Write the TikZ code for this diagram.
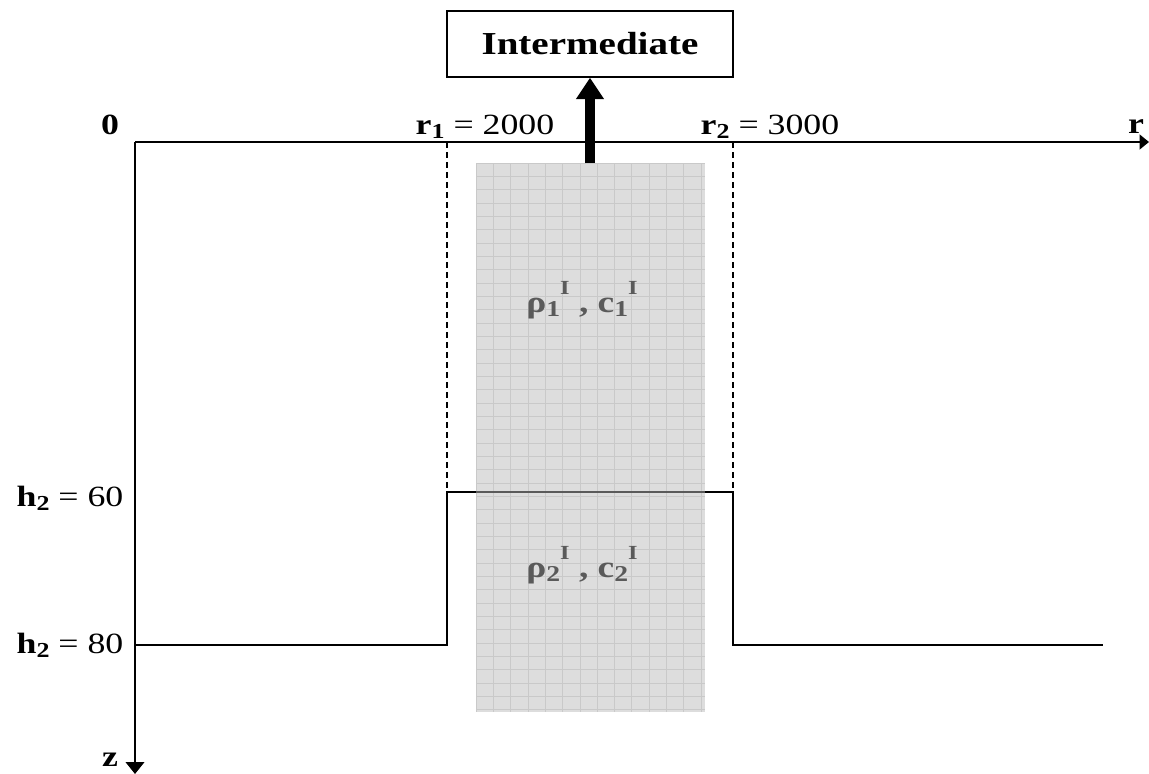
\documentclass[tikz,border=0pt]{standalone}
\usepackage{fontspec}
\setmainfont{Liberation Serif}
\usepackage{graphicx}
\usetikzlibrary{arrows.meta}
\newcommand{\sx}[1]{\scalebox{1.22}[1]{#1}}
\newcommand{\bsub}[1]{\raisebox{-0.3ex}{\fontsize{16}{16}\selectfont\textbf{#1}}}
\newcommand{\gsub}[1]{\raisebox{-0.3ex}{\fontsize{17}{17}\selectfont\textbf{#1}}}
\newcommand{\gsup}[1]{\raisebox{1.25ex}{\fontsize{15}{15}\selectfont\textbf{#1}}}
\definecolor{cellfill}{HTML}{DDDDDD}
\definecolor{cellgrid}{HTML}{C9C9C9}
\definecolor{labgray}{HTML}{5A5A5A}
\begin{document}
\begin{tikzpicture}[x=0.75pt,y=-0.75pt,
  lab/.style={inner sep=0pt,font=\fontsize{22}{26}\selectfont},
  glab/.style={inner sep=0pt,font=\fontsize{23}{26}\selectfont,text=labgray},
  axis/.style={line width=1.5pt},
  layer/.style={line width=1.4pt},
  guide/.style={line width=1.3pt,dash pattern=on 4.5pt off 3pt},
  box/.style={draw,line width=1.1pt,minimum width=214.5pt,minimum height=49.5pt,inner sep=0pt,font=\fontsize{24}{28}\selectfont\bfseries}]
\useasboundingbox (0,0) rectangle (1149,774);
% shaded region with grid
\fill[cellfill] (476,163) rectangle (705,712);
\begin{scope}
\clip (476,163) rectangle (705,712);
\foreach \i in {0,...,14} \draw[cellgrid,line width=0.4pt] ({476+17.3*\i},163) -- ({476+17.3*\i},712);
\foreach \j in {0,...,42} \draw[cellgrid,line width=0.4pt] (476,{163+13.33*\j}) -- (705,{163+13.33*\j});
\end{scope}
% coordinates
\coordinate (O) at (135,142);
\coordinate (rend) at (1149,142);
\coordinate (zend) at (135,774);
\coordinate (a) at (135,645);
\coordinate (b) at (447,645);
\coordinate (c) at (447,492);
\coordinate (d) at (733,492);
\coordinate (e) at (733,645);
\coordinate (f) at (1103,645);
\coordinate (t1) at (447,142);
\coordinate (t2) at (733,142);
\coordinate (s) at (590,163);
% axes
\draw[axis,-{Triangle[length=7pt,width=11pt]}] (O) -- (rend);
\draw[axis,-{Triangle[length=9pt,width=14pt]}] (O) -- (zend);
% dashed guides
\draw[guide] (t1) -- (c);
\draw[guide] (t2) -- (d);
% layer profile
\draw[layer] (a) -- (b) -- (c) -- (d) -- (e) -- (f);
\draw[layer,labgray] (476,492) -- (705,492);
% box and arrow
\node[box] (inter) at (590,44) {\sx{Intermediate}};
\draw[line width=7.5pt,-{Triangle[length=16pt,width=20pt]}] (s) -- (inter.south);
% labels
\node[lab] (l0) at (110,125) {\sx{\textbf{0}}};
\node[lab] (lr) at (1136,127) {\sx{\textbf{r}}};
\node[lab] (lz) at (110,760) {\sx{\textbf{z}}};
\node[lab] (lr1) at (485,127) {\sx{\textbf{r}\bsub{1} = 2000}};
\node[lab] (lr2) at (770,127) {\sx{\textbf{r}\bsub{2} = 3000}};
\node[lab] (lh1) at (70,498) {\sx{\textbf{h}\bsub{2} = 60}};
\node[lab] (lh2) at (70,645) {\sx{\textbf{h}\bsub{2} = 80}};
\node[glab] (m1) at (582,300) {\sx{\textbf{ρ}\gsub{1}\gsup{I}\textbf{ , c}\gsub{1}\gsup{I}}};
\node[glab] (m2) at (582,565) {\sx{\textbf{ρ}\gsub{2}\gsup{I}\textbf{ , c}\gsub{2}\gsup{I}}};
\end{tikzpicture}
\end{document}
